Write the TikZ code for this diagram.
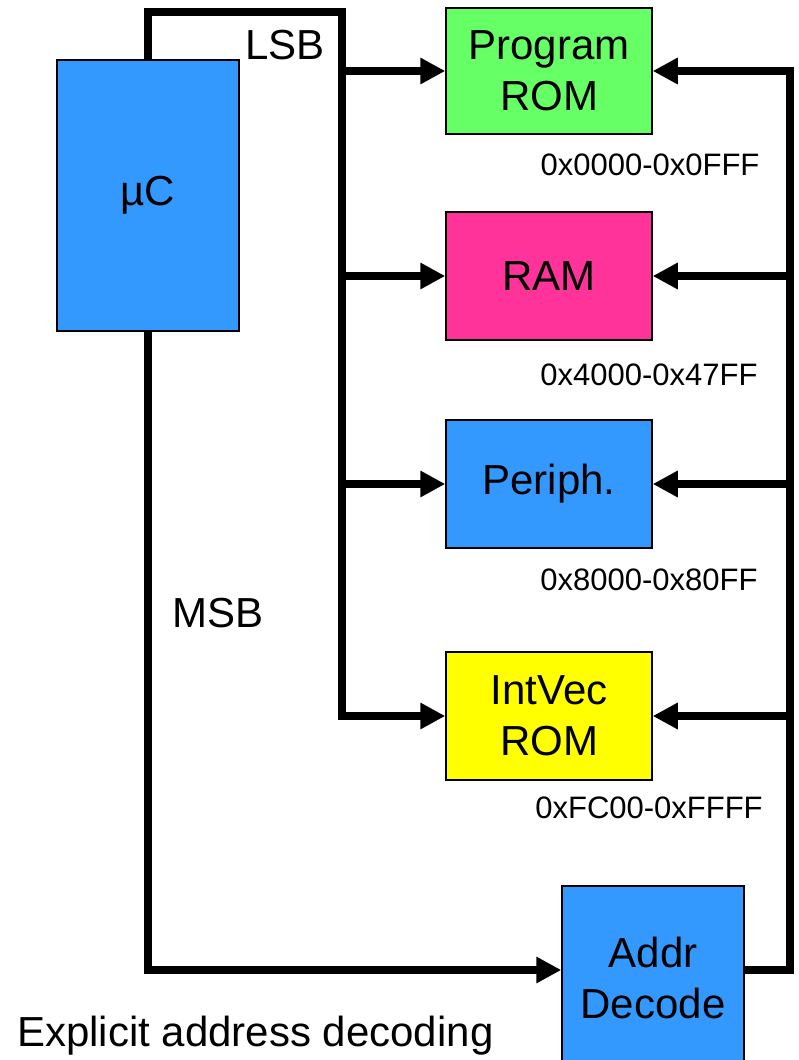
\documentclass[tikz,border=0pt]{standalone}
\usepackage{fontspec}
\setmainfont{Liberation Sans}
\usetikzlibrary{arrows.meta,positioning}
\definecolor{chipblue}{HTML}{3399FF}
\definecolor{romgreen}{HTML}{66FF66}
\definecolor{rampink}{HTML}{FF3399}
\definecolor{vecyellow}{HTML}{FFFF00}

\begin{document}
\begin{tikzpicture}[
    x=1pt, y=-1pt,
    block/.style={
        draw=black,
        line width=1.5pt,
        inner sep=0pt,
        minimum width=206pt,
        minimum height=128pt,
        align=center,
        font=\fontsize{42}{51}\selectfont,
    },
    addr/.style={font=\fontsize{31}{36}\selectfont, inner sep=0pt},
    tag/.style={font=\fontsize{42}{50}\selectfont, inner sep=0pt},
    bus/.style={line width=8pt},
    feed/.style={line width=8pt, -{Triangle[length=25pt, width=25pt]}},
]
\useasboundingbox (0,0) rectangle (798,1060);

\node[block, fill=chipblue, minimum width=182pt, minimum height=271pt] (uc) at (148, 195.5) {µC};
\node[block, fill=romgreen, minimum height=126pt] (prom) at (549, 71) {Program\\ROM};
\node[block, fill=rampink] (ram) at (549, 276) {RAM};
\node[block, fill=chipblue] (periph) at (549, 484) {Periph.};
\node[block, fill=vecyellow] (intvec) at (549, 716) {IntVec\\ROM};
\node[block, fill=chipblue, minimum width=182pt, minimum height=184pt] (dec) at (653, 978) {Addr\\Decode};

\node[addr] (promaddr) at (650, 165) {0x0000-0x0FFF};
\node[addr] (ramaddr) at (649, 375) {0x4000-0x47FF};
\node[addr] (periphaddr) at (649, 580) {0x8000-0x80FF};
\node[addr] (intvecaddr) at (649, 808) {0xFC00-0xFFFF};

\node[tag] (lsb) at (285, 45) {LSB};
\node[tag] (msb) at (218, 613) {MSB};
\node[tag, anchor=west] (caption) at (17, 1036) {Explicit address decoding};

% LSB bus
\coordinate (ltop) at (342, 12);
\draw[bus] (uc.north) |- (ltop) -- (ltop |- prom.west);
\draw[feed] (ltop |- prom.west) |- (intvec.west);
\draw[feed] (ltop |- prom.west) -- (prom.west);
\draw[feed] (ltop |- ram.west) -- (ram.west);
\draw[feed] (ltop |- periph.west) -- (periph.west);

% MSB and select lines
\draw[feed] (uc.south) |- ([yshift=8pt]dec.west);
\coordinate (rtop) at (790, 71);
\draw[feed] ([yshift=8pt]dec.east) -| (rtop) -- (prom.east);
\draw[feed] (rtop |- ram.east) -- (ram.east);
\draw[feed] (rtop |- periph.east) -- (periph.east);
\draw[feed] (rtop |- intvec.east) -- (intvec.east);

\end{tikzpicture}
\end{document}
